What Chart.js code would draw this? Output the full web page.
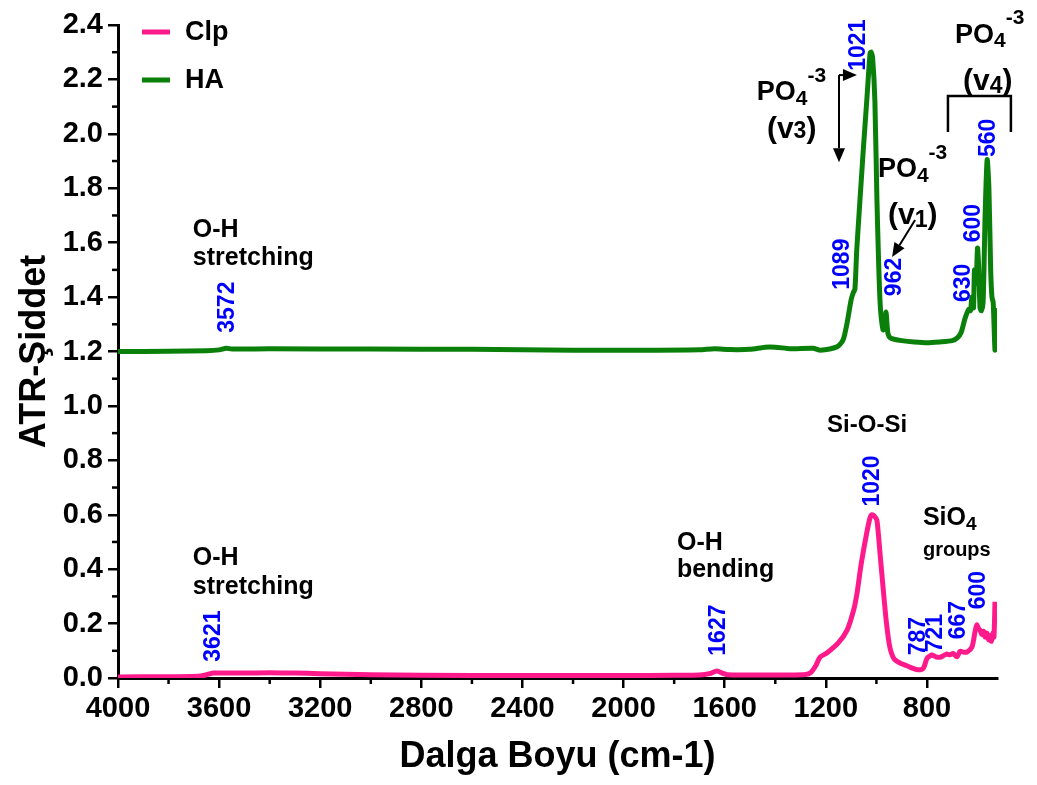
<!DOCTYPE html>
<html>
<head>
<meta charset="utf-8">
<script src="https://cdn.jsdelivr.net/npm/chart.js@4.4.1/dist/chart.umd.min.js"></script>
<style>
  html, body { margin: 0; padding: 0; background: #fff; }
  #wrap { width: 1037px; height: 785px; position: relative; }
</style>
</head>
<body>
<div id="wrap"><canvas id="ftir"></canvas></div>
<script>
// wavenumbers (cm-1) and intensities
const haWave = [4000, 3800, 3650, 3600, 3572, 3550, 3400, 3000, 2600, 2200, 1900, 1700, 1640, 1580, 1500, 1440, 1400, 1340, 1250, 1224,
  1156, 1132, 1116, 1100, 1092, 1085, 1078, 1065, 1052, 1038, 1025, 1021, 1015, 1006, 998, 986, 974, 966, 962, 958, 954, 945,
  930, 900, 850, 800, 750, 700, 680, 665, 650, 635, 628, 622, 616, 612, 606, 600, 596, 590, 585, 578, 570, 562, 555, 548,
  543, 538, 531, 527, 523];
const haVal = [1.200, 1.201, 1.203, 1.206, 1.212, 1.209, 1.210, 1.209, 1.208, 1.205, 1.205, 1.206, 1.210, 1.207, 1.208, 1.216, 1.216, 1.210, 1.212, 1.205,
  1.217, 1.242, 1.305, 1.390, 1.415, 1.430, 1.570, 1.757, 1.940, 2.124, 2.297, 2.300, 2.280, 2.120, 1.760, 1.390, 1.280, 1.300, 1.345, 1.300, 1.265, 1.250,
  1.245, 1.240, 1.235, 1.232, 1.235, 1.240, 1.250, 1.270, 1.320, 1.355, 1.350, 1.400, 1.360, 1.500, 1.450, 1.580, 1.520, 1.360, 1.350, 1.380, 1.700, 1.905, 1.800, 1.500,
  1.400, 1.380, 1.205, 1.350, 1.316];

const clpWave = [4000, 3800, 3680, 3650, 3621, 3500, 3400, 3300, 3200, 3000, 2800, 2400, 2000, 1800, 1700, 1660, 1631, 1610, 1590, 1500,
  1350, 1280, 1260, 1240, 1223, 1196, 1150, 1116, 1090, 1077, 1060, 1039, 1025, 1018, 1008, 998, 985, 974, 960, 947,
  930, 907, 880, 855, 835, 815, 800, 790, 780, 765, 749, 735, 721, 709, 697, 681, 669, 655, 642, 622,
  610, 603, 595, 590, 583, 576, 570, 563, 556, 551, 545, 539, 535, 531];
const clpVal = [0.004, 0.005, 0.006, 0.012, 0.018, 0.018, 0.019, 0.018, 0.016, 0.012, 0.010, 0.009, 0.009, 0.010, 0.011, 0.016, 0.026, 0.018, 0.012, 0.011,
  0.011, 0.013, 0.020, 0.045, 0.077, 0.092, 0.130, 0.176, 0.250, 0.310, 0.420, 0.530, 0.590, 0.600, 0.595, 0.580, 0.450, 0.336, 0.200, 0.114,
  0.070, 0.055, 0.045, 0.035, 0.030, 0.035, 0.072, 0.080, 0.085, 0.078, 0.076, 0.082, 0.088, 0.085, 0.090, 0.078, 0.098, 0.095, 0.095, 0.114,
  0.170, 0.195, 0.180, 0.176, 0.160, 0.172, 0.150, 0.165, 0.140, 0.155, 0.135, 0.165, 0.150, 0.280];

const seriesNames = ['Clp', 'HA'];
const seriesColors = ['#FF1A8C', '#0A800A'];

const xMin = 523, xMax = 4000;
const yMin = 0, yMax = 2.4;

// peak labels: [text, wavenumber, intensity]  (blue, rotated)
const peakLabels = [
  ['3572', 3570, 1.363], ['3621', 3625, 0.154], ['1627', 1627, 0.176], ['1020', 1018, 0.724],
  ['787', 835, 0.154], ['721', 768, 0.165], ['667', 677, 0.213], ['600', 598, 0.323],
  ['1089', 1136, 1.521], ['962', 930, 1.474], ['630', 657, 1.452], ['600', 618, 1.672],
  ['560', 558, 1.985], ['1021', 1073, 2.326]
];

// band notes: [text, wavenumber, intensity, size]
const bandNotes = [
  ['O-H', 3704, 1.646, 25], ['stretching', 3704, 1.544, 25],
  ['O-H', 3704, 0.441, 25], ['stretching', 3704, 0.334, 25],
  ['O-H', 1789, 0.496, 25], ['bending', 1789, 0.397, 25],
  ['Si-O-Si', 1195, 0.930, 24], ['groups', 816, 0.470, 20]
];

const toPts = (w, v) => w.map((x, i) => ({ x: x, y: v[i] }));

const isMult = (v, s) => Math.abs(v / s - Math.round(v / s)) < 1e-6;

const FONT = "'Liberation Sans', Arial, sans-serif";

function rich(ctx, x, y, parts) {
  // parts: [text, size, dy]
  let cx = x;
  parts.forEach(p => {
    ctx.font = 'bold ' + p[1] + 'px ' + FONT;
    ctx.fillText(p[0], cx, y + p[2]);
    cx += ctx.measureText(p[0]).width;
  });
}

function arrow(ctx, x1, y1, x2, y2) {
  const a = Math.atan2(y2 - y1, x2 - x1);
  const L = 14, W = 6;
  ctx.beginPath();
  ctx.moveTo(x1, y1);
  ctx.lineTo(x2 - L * Math.cos(a), y2 - L * Math.sin(a));
  ctx.stroke();
  ctx.beginPath();
  ctx.moveTo(x2, y2);
  ctx.lineTo(x2 - L * Math.cos(a) + W * Math.sin(a), y2 - L * Math.sin(a) - W * Math.cos(a));
  ctx.lineTo(x2 - L * Math.cos(a) - W * Math.sin(a), y2 - L * Math.sin(a) + W * Math.cos(a));
  ctx.closePath();
  ctx.fill();
}

const notesPlugin = {
  id: 'notes',
  afterDraw(chart) {
    const ctx = chart.ctx;
    const xs = chart.scales.x, ys = chart.scales.y;
    const X = v => xs.getPixelForValue(v), Y = v => ys.getPixelForValue(v);
    ctx.save();

    // minor ticks
    ctx.strokeStyle = '#000';
    ctx.lineWidth = 2.5;
    xs.ticks.forEach(t => {
      if (isMult(t.value, 200) && !isMult(t.value, 400)) {
        const px = X(t.value);
        ctx.beginPath(); ctx.moveTo(px, ys.bottom); ctx.lineTo(px, ys.bottom + 6); ctx.stroke();
      }
    });
    ys.ticks.forEach(t => {
      if (!isMult(t.value, 0.2)) {
        const py = Y(t.value);
        ctx.beginPath(); ctx.moveTo(xs.left, py); ctx.lineTo(xs.left - 6, py); ctx.stroke();
      }
    });

    // legend
    chart.data.datasets.forEach((ds, i) => {
      const ly = 32 + i * 48;
      ctx.strokeStyle = ds.borderColor;
      ctx.lineWidth = 5;
      ctx.beginPath(); ctx.moveTo(142, ly); ctx.lineTo(170, ly); ctx.stroke();
      ctx.fillStyle = '#000';
      ctx.font = 'bold 27px ' + FONT;
      ctx.textBaseline = 'middle';
      ctx.textAlign = 'left';
      ctx.fillText(ds.label, 185, ly + 1);
    });

    // peak numbers
    ctx.fillStyle = '#0000FF';
    ctx.font = 'bold 23px ' + FONT;
    ctx.textAlign = 'center';
    ctx.textBaseline = 'middle';
    peakLabels.forEach(p => {
      ctx.save();
      ctx.translate(X(p[1]), Y(p[2]));
      ctx.rotate(-Math.PI / 2);
      ctx.fillText(p[0], 0, 1);
      ctx.restore();
    });

    // band notes
    ctx.fillStyle = '#000';
    ctx.textAlign = 'left';
    bandNotes.forEach(n => {
      ctx.font = 'bold ' + n[3] + 'px ' + FONT;
      ctx.fillText(n[0], X(n[1]), Y(n[2]));
    });
    rich(ctx, X(816), Y(0.588), [['SiO', 25, 0], ['4', 19, 7]]);

    // phosphate groups
    rich(ctx, X(1473), Y(2.150), [['PO', 27, 0], ['4', 21, 6], ['-3', 21, -17]]);
    rich(ctx, X(1433), Y(2.014), [['(v', 30, 0], ['3', 23, 2], [')', 30, 0]]);
    rich(ctx, X(994), Y(1.867), [['PO', 27, 0], ['4', 21, 6], ['-3', 21, -17]]);
    rich(ctx, X(954), Y(1.700), [['(v', 30, 0], ['1', 23, 5], [')', 30, 0]]);
    rich(ctx, X(689), Y(2.363), [['PO', 27, 0], ['4', 21, 6], ['-3', 21, -17]]);
    rich(ctx, X(657), Y(2.190), [['(v', 30, 0], ['4', 23, 5], [')', 30, 0]]);

    // bracket over v4 band
    ctx.strokeStyle = '#000';
    ctx.lineWidth = 2.5;
    ctx.beginPath();
    ctx.moveTo(X(717), Y(2.007));
    ctx.lineTo(X(717), Y(2.139));
    ctx.lineTo(X(468), Y(2.139));
    ctx.lineTo(X(468), Y(2.007));
    ctx.stroke();

    // arrows
    ctx.lineWidth = 2;
    arrow(ctx, X(1148), Y(2.216), X(1148), Y(1.896));
    arrow(ctx, X(1148), Y(2.216), X(1077), Y(2.216));
    arrow(ctx, X(847), Y(1.683), X(938), Y(1.547));

    ctx.restore();
  }
};

new Chart(document.getElementById('ftir'), {
  type: 'line',
  data: {
    datasets: [
      { label: seriesNames[0], data: toPts(clpWave, clpVal), borderColor: seriesColors[0], borderWidth: 5 },
      { label: seriesNames[1], data: toPts(haWave, haVal), borderColor: seriesColors[1], borderWidth: 5 }
    ]
  },
  options: {
    responsive: true,
    maintainAspectRatio: false,
    animation: false,
    parsing: false,
    elements: { point: { radius: 0 }, line: { tension: 0.25, borderJoinStyle: 'round' } },
    layout: { padding: { left: 0, right: 40, top: 25, bottom: 0 } },
    plugins: { legend: { display: false }, tooltip: { enabled: false } },
    scales: {
      x: {
        type: 'linear',
        reverse: true,
        min: xMin,
        max: xMax,
        afterFit: s => { s.height = 107; },
        border: { display: true, color: '#000', width: 3 },
        grid: {
          drawOnChartArea: false,
          tickLength: 10,
          lineWidth: 2.5,
          color: c => (c.tick && isMult(c.tick.value, 400)) ? '#000' : 'rgba(0,0,0,0)'
        },
        ticks: {
          stepSize: 200,
          autoSkip: false,
          maxRotation: 0,
          padding: 4,
          color: '#000',
          font: { family: FONT, size: 29, weight: 'bold' },
          callback: v => isMult(v, 400) ? String(v) : ''
        },
        title: {
          display: true,
          text: 'Dalga Boyu (cm-1)',
          color: '#000',
          font: { family: FONT, size: 36, weight: 'bold' },
          padding: { top: 0, bottom: 6 }
        }
      },
      y: {
        min: yMin,
        max: yMax,
        afterFit: s => { s.width = 118; },
        border: { display: true, color: '#000', width: 3 },
        grid: {
          drawOnChartArea: false,
          tickLength: 10,
          lineWidth: 2.5,
          color: c => (c.tick && isMult(c.tick.value, 0.2)) ? '#000' : 'rgba(0,0,0,0)'
        },
        ticks: {
          stepSize: 0.1,
          autoSkip: false,
          padding: 5,
          color: '#000',
          font: { family: FONT, size: 29, weight: 'bold' },
          callback: v => isMult(v, 0.2) ? v.toFixed(1) : ''
        },
        title: {
          display: true,
          text: 'ATR-Şiddet',
          color: '#000',
          font: { family: FONT, size: 36, weight: 'bold' },
          padding: { top: 13, bottom: 0 }
        }
      }
    }
  },
  plugins: [notesPlugin]
});
</script>
</body>
</html>
